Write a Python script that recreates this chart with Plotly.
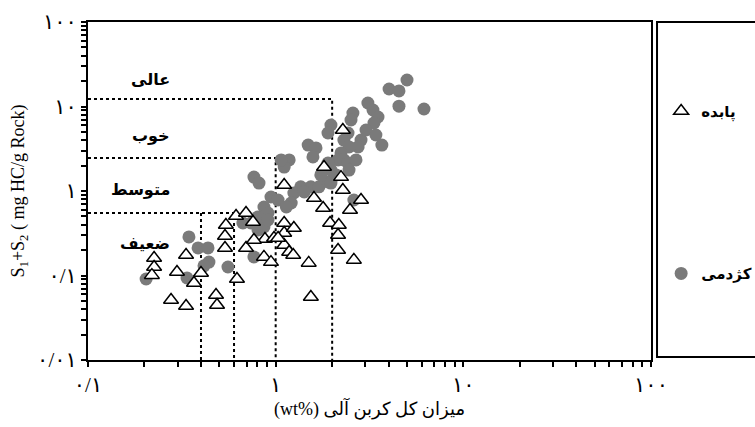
import math
import plotly.graph_objects as go

# ---- data (TOC wt%, S1+S2 mg HC/g rock) ----
kazhdumi_toc = [5.01, 4.02, 4.54, 4.54, 6.17, 3.10, 3.30, 3.51, 3.34, 2.58, 2.52, 3.68, 2.85, 2.75,
                2.43, 2.31, 2.46, 1.97, 1.90, 2.23, 2.15, 2.31, 2.43, 2.46, 1.90, 1.97, 1.49, 1.64,
                1.58, 1.18, 1.11, 1.07, 0.766, 0.815, 1.36, 1.54, 1.70, 1.25, 1.42, 0.944, 1.03,
                1.21, 1.14, 0.866, 0.910, 0.805, 0.739, 0.805, 0.866, 0.910, 0.669, 2.61, 0.766,
                1.90, 1.97, 3.03, 3.42, 2.68, 1.74, 2.10, 0.345, 0.204, 0.386, 0.436, 0.441, 0.415,
                0.337, 0.557]
kazhdumi_s = [20.6, 16.1, 15.3, 10.1, 9.34, 11.0, 9.09, 7.51, 6.38, 8.38, 6.92, 3.50, 4.01, 3.32,
              4.86, 4.01, 3.32, 6.04, 4.86, 2.82, 2.33, 2.33, 2.14, 1.77, 2.14, 1.77, 3.50, 3.23,
              2.53, 2.33, 1.92, 2.33, 1.46, 1.24, 1.12, 1.12, 1.12, 0.947, 0.973, 0.849, 0.782,
              0.721, 0.647, 0.647, 0.549, 0.493, 0.418, 0.346, 0.375, 0.454, 0.418, 0.782, 0.166,
              1.28, 1.24, 5.27, 4.60, 2.33, 1.55, 1.55, 0.286, 0.0909, 0.212, 0.212, 0.144, 0.130,
              0.0934, 0.126]

pabdeh_toc = [0.225, 0.225, 0.219, 0.333, 0.298, 0.400, 0.367, 0.277, 0.333, 0.481, 0.487, 0.622,
              0.543, 0.537, 0.537, 0.615, 0.695, 0.757, 0.695, 0.877, 0.980, 0.766, 1.11, 1.11,
              1.25, 1.11, 1.18, 1.24, 1.03, 1.50, 1.54, 1.79, 1.60, 1.95, 2.17, 2.15, 2.15, 2.49,
              2.61, 2.85, 2.28, 1.11, 2.28, 2.23, 1.81, 0.866, 0.944]
pabdeh_s = [0.161, 0.126, 0.101, 0.175, 0.110, 0.107, 0.0815, 0.0513, 0.0436, 0.0588, 0.0448, 0.0909,
            0.396, 0.293, 0.212, 0.506, 0.549, 0.430, 0.212, 0.270, 0.278, 0.263, 0.418, 0.318,
            0.365, 0.230, 0.190, 0.175, 0.278, 0.141, 0.0557, 0.629, 0.826, 0.418, 0.396, 0.302,
            0.200, 0.596, 0.153, 0.782, 1.03, 1.18, 5.27, 1.46, 1.92, 0.166, 0.144]

# class boundaries (as drawn)
s_bounds = [0.549, 2.46, 12.3]      # poor/fair, fair/good, good/excellent
toc_bounds = [0.6, 1.0, 2.0]        # right end of each horizontal boundary
extra_toc = [0.4]                   # extra vertical dotted line
class_names = ["ضعیف", "متوسط", "خوب", "عالی"]
class_y = [0.242, 1.03, 4.60, 20.6]
class_x = 0.28   # right edge of class labels

x_ticks = [0.1, 1, 10, 100]
x_ticktext = ["۰/۱", "۱", "۱۰", "۱۰۰"]
y_ticks = [0.01, 0.1, 1, 10, 100]
y_ticktext = ["۰/۰۱", "۰/۱", "۱", "۱۰", "۱۰۰"]

XMIN, XMAX, YMIN, YMAX = 0.1, 100, 0.01, 100

def minor_vals(lo_exp, hi_exp):
    vals = []
    for e in range(lo_exp, hi_exp):
        for m in range(2, 10):
            vals.append(m * 10 ** e)
    return vals

fig = go.Figure()

dot = dict(color="black", width=2, dash="dot")
for sb, tb in zip(s_bounds, toc_bounds):
    fig.add_trace(go.Scatter(x=[XMIN, tb, tb], y=[sb, sb, YMIN], mode="lines", line=dot,
                             showlegend=False, hoverinfo="skip"))
for tb in extra_toc:
    fig.add_trace(go.Scatter(x=[tb, tb], y=[s_bounds[0], YMIN], mode="lines", line=dot,
                             showlegend=False, hoverinfo="skip"))

fig.add_trace(go.Scatter(x=kazhdumi_toc, y=kazhdumi_s, mode="markers", name="<b>کژدمی</b>",
                         legendgroup="k", legendrank=2,
                         marker=dict(symbol="circle", size=13, color="#7a7a7a")))
fig.add_trace(go.Scatter(x=pabdeh_toc, y=pabdeh_s, mode="markers", name="<b>پابده</b>",
                         legendgroup="p", legendrank=1,
                         marker=dict(symbol="triangle-up", size=13, color="white",
                                     line=dict(color="black", width=1.5))))

for name, yy in zip(class_names, class_y):
    fig.add_annotation(x=math.log10(class_x), y=math.log10(yy), xanchor="right",
                       text="<b>%s</b>" % name, showarrow=False,
                       font=dict(size=16, color="black", family="DejaVu Sans"))

axis_common = dict(type="log", showgrid=False, zeroline=False, showline=True, linewidth=2,
                   linecolor="black", mirror=True, ticks="outside", ticklen=5, tickwidth=1.5,
                   tickcolor="black", tickfont=dict(size=21, color="black",
                                                    family="Liberation Serif, DejaVu Sans"))
fig.update_xaxes(range=[-1, 2], tickmode="array", tickvals=x_ticks, ticktext=x_ticktext,
                 minor=dict(tickmode="array", tickvals=minor_vals(-1, 2), ticks="outside",
                            ticklen=5, tickwidth=1.5, tickcolor="black", showgrid=False),
                 title=dict(text="(wt%) میزان کل کربن آلی", standoff=6,
                            font=dict(size=18, color="black", family="Liberation Serif, DejaVu Sans")),
                 **axis_common)
fig.update_yaxes(range=[-2, 2], tickmode="array", tickvals=y_ticks, ticktext=y_ticktext,
                 minor=dict(tickmode="array", tickvals=minor_vals(-2, 2), ticks="outside",
                            ticklen=5, tickwidth=1.5, tickcolor="black", showgrid=False),
                 title=dict(text="S<sub>1</sub>+S<sub>2</sub> ( mg HC/g Rock)", standoff=8,
                            font=dict(size=18, color="black", family="Liberation Serif")),
                 **axis_common)

fig.add_shape(type="rect", xref="paper", yref="paper", x0=1.0107, x1=1.25, y0=0.009, y1=1.0,
              line=dict(color="black", width=2), fillcolor="rgba(0,0,0,0)")

fig.update_layout(
    width=755, height=427,
    margin=dict(l=88, r=104, t=22, b=67, autoexpand=False),
    paper_bgcolor="white", plot_bgcolor="white",
    showlegend=True,
    legend=dict(x=1.018, y=0.785, xanchor="left", yanchor="top", tracegroupgap=140,
                bgcolor="rgba(0,0,0,0)", font=dict(size=15, color="black", family="DejaVu Sans"),
                itemwidth=30),
)

fig.write_html("out.html")
